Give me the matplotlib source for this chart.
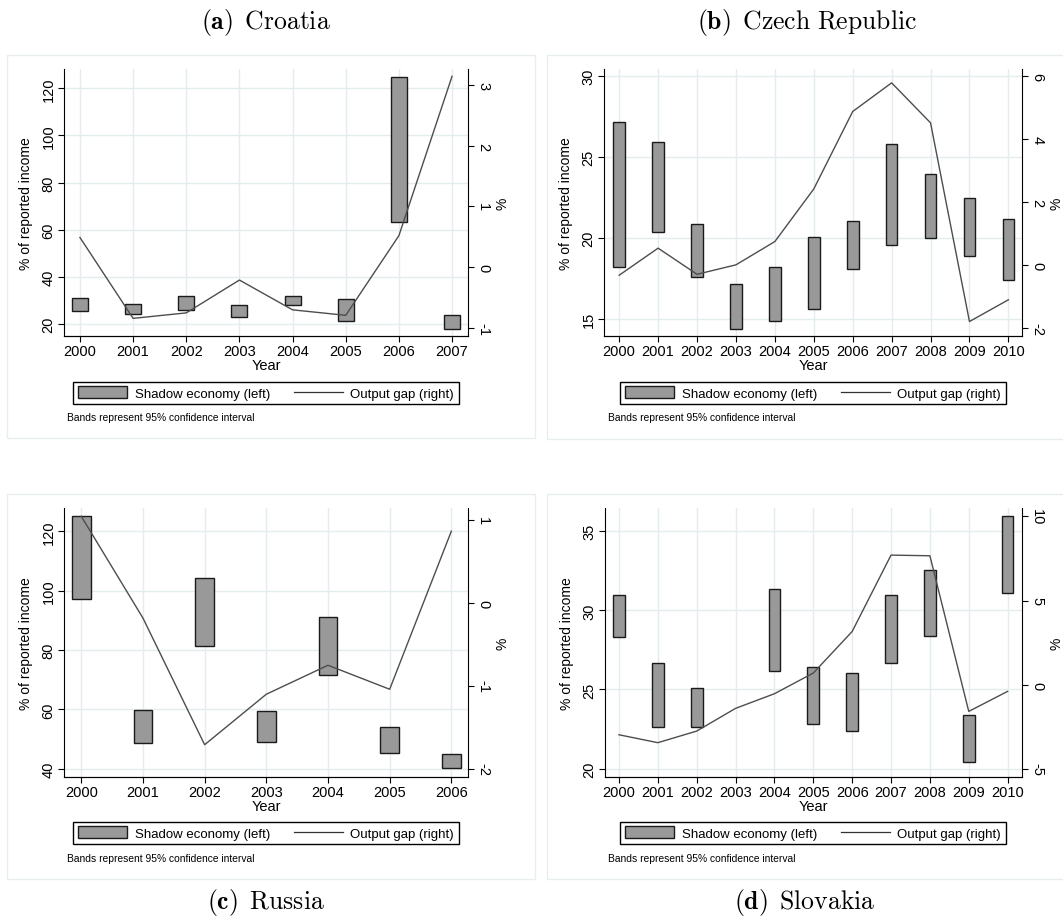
import numpy as np
import matplotlib
matplotlib.use('Agg')
import matplotlib.pyplot as plt
from matplotlib.patches import Rectangle, Patch
from matplotlib.lines import Line2D

# values
years_hr = [2000, 2001, 2002, 2003, 2004, 2005, 2006, 2007]
hr_lo = [25.4, 24.2, 25.8, 23.1, 28.1, 21.1, 63.3, 17.9]
hr_hi = [31.0, 28.6, 31.7, 27.9, 32.0, 30.5, 125.0, 24.0]
hr_gap = [0.49, -0.84, -0.75, -0.21, -0.70, -0.79, 0.52, 3.14]

years_cz = list(range(2000, 2011))
cz_lo = [18.2, 20.4, 17.6, 14.4, 14.9, 15.6, 18.1, 19.6, 20.0, 18.9, 17.4]
cz_hi = [27.2, 25.95, 20.9, 17.15, 18.2, 20.05, 21.05, 25.8, 23.95, 22.5, 21.15]
cz_gap = [-0.32, 0.54, -0.29, 0.01, 0.75, 2.42, 4.88, 5.79, 4.52, -1.79, -1.10]

years_ru = [2000, 2001, 2002, 2003, 2004, 2005, 2006]
ru_lo = [97.2, 48.5, 81.4, 48.9, 71.7, 45.3, 40.2]
ru_hi = [125.1, 59.7, 104.2, 59.3, 91.0, 53.9, 44.9]
ru_gap = [1.05, -0.18, -1.71, -1.10, -0.75, -1.04, 0.87]

years_sk = list(range(2000, 2011))
sk_lo = [28.3, 22.6, 22.6, np.nan, 26.2, 22.8, 22.4, 26.7, 28.4, 20.4, 31.1]
sk_hi = [31.0, 26.7, 25.1, np.nan, 31.35, 26.45, 26.05, 31.0, 32.55, 23.4, 35.95]
sk_gap = [-2.98, -3.45, -2.76, -1.41, -0.54, 0.69, 3.16, 7.70, 7.66, -1.59, -0.40]

titles = [r'$\mathbf{(a)}\ \,\mathrm{Croatia}$',
          r'$\mathbf{(b)}\ \,\mathrm{Czech\ Republic}$',
          r'$\mathbf{(c)}\ \,\mathrm{Russia}$',
          r'$\mathbf{(d)}\ \,\mathrm{Slovakia}$']

plt.rcParams.update({'font.family': ['Liberation Sans', 'DejaVu Sans'],
                     'mathtext.fontset': 'cm', 'font.size': 10,
                     'axes.unicode_minus': False})

W, H = 1063, 920
fig = plt.figure(figsize=(W / 100, H / 100), dpi=100)

GRID = '#e3ecee'
BAR = '#999999'


def frac(l, t, r, b):
    return [l / W, 1 - b / H, (r - l) / W, (b - t) / H]


panels = [
    dict(years=years_hr, lo=hr_lo, hi=hr_hi, gap=hr_gap,
         ax=(64, 70, 468, 337), box=(7, 56, 535, 439), leg=(266, 394),
         note=(67, 418), cap=(266, 22),
         xlim=(1999.7, 2007.3), ylim=(14.9, 128.2), y2lim=(-1.13, 3.26),
         yt=[20, 40, 60, 80, 100, 120], y2t=[-1, 0, 1, 2, 3]),
    dict(years=years_cz, lo=cz_lo, hi=cz_hi, gap=cz_gap,
         ax=(604, 70, 1022, 337), box=(547, 56, 1070, 440), leg=(813, 394),
         note=(608, 418), cap=(807, 22),
         xlim=(1999.61, 2010.35), ylim=(13.95, 30.45), y2lim=(-2.25, 6.23),
         yt=[15, 20, 25, 30], y2t=[-2, 0, 2, 4, 6]),
    dict(years=years_ru, lo=ru_lo, hi=ru_hi, gap=ru_gap,
         ax=(64, 509, 468, 778), box=(7, 495, 535, 880), leg=(266, 834),
         note=(67, 859), cap=(266, 903),
         xlim=(1999.72, 2006.27), ylim=(37.2, 127.9), y2lim=(-2.10, 1.15),
         yt=[40, 60, 80, 100, 120], y2t=[-2, -1, 0, 1]),
    dict(years=years_sk, lo=sk_lo, hi=sk_hi, gap=sk_gap,
         ax=(605, 509, 1022, 778), box=(547, 495, 1070, 880), leg=(813, 834),
         note=(608, 859), cap=(805, 903),
         xlim=(1999.64, 2010.37), ylim=(19.47, 36.47), y2lim=(-5.49, 10.5),
         yt=[20, 25, 30, 35], y2t=[-5, 0, 5, 10]),
]

for p, title in zip(panels, titles):
    l, t, r, b = p['box']
    fig.patches.append(Rectangle((l / W, 1 - b / H), (r - l) / W, (b - t) / H,
                                 transform=fig.transFigure, fill=False,
                                 edgecolor='#e6eeee', lw=1.0, zorder=0))
    ax = fig.add_axes(frac(*p['ax']))
    yrs = np.array(p['years'], dtype=float)
    lo = np.array(p['lo'], dtype=float)
    hi = np.array(p['hi'], dtype=float)
    ok = ~np.isnan(lo)
    ax.bar(yrs[ok], hi[ok] - lo[ok], bottom=lo[ok], width=0.3,
           color=BAR, edgecolor='#1a1a1a', lw=1.0, zorder=3)
    ax.set_xlim(*p['xlim'])
    ax.set_ylim(*p['ylim'])
    ax.set_xticks(p['years'])
    ax.set_yticks(p['yt'])
    ax.grid(True, color=GRID, lw=1.0, zorder=0)
    ax.set_axisbelow(True)
    for s in ('top', 'right'):
        ax.spines[s].set_visible(False)
    ax.tick_params(axis='y', labelrotation=90, length=4, pad=2, width=0.8,
                   labelsize=10.5)
    ax.tick_params(axis='x', length=4, pad=1.5, width=0.8, labelsize=10.5)
    for lab in ax.get_yticklabels():
        lab.set_va('center')
    ax.set_ylabel('% of reported income', labelpad=6, fontsize=10)
    ax.set_xlabel('Year', labelpad=0, fontsize=10.5)

    ax2 = ax.twinx()
    ax2.plot(p['years'], p['gap'], color='#4d4d4d', lw=1.0, zorder=4)
    ax2.set_ylim(*p['y2lim'])
    ax2.set_yticks(p['y2t'])
    ax2.tick_params(axis='y', labelrotation=270, length=4, pad=2, width=0.8,
                    labelsize=10.5)
    for lab in ax2.get_yticklabels():
        lab.set_va('center')
    ax2.spines['top'].set_visible(False)
    ax2.spines['left'].set_visible(False)
    ax2.set_ylabel('%', labelpad=4, fontsize=10)

    handles = [Patch(facecolor=BAR, edgecolor='#1a1a1a', lw=1.0),
               Line2D([0], [0], color='#333333', lw=0.9)]
    cx, cy = p['leg']
    fig.legend(handles, ['Shadow economy (left)', 'Output gap (right)'],
               loc='center', bbox_to_anchor=(cx / W, 1 - cy / H),
               ncol=2, fancybox=False, edgecolor='black', framealpha=1,
               handlelength=3.7, handleheight=1.0, handletextpad=0.6,
               columnspacing=1.8, borderpad=0.35, fontsize=9.5)
    nx, ny = p['note']
    fig.text(nx / W, 1 - ny / H, 'Bands represent 95% confidence interval',
             fontsize=7.4, va='center', ha='left')
    capx, capy = p['cap']
    fig.text(capx / W, 1 - capy / H, title, fontsize=18.5,
             ha='center', va='center')

fig.savefig('out.png', dpi=100)
